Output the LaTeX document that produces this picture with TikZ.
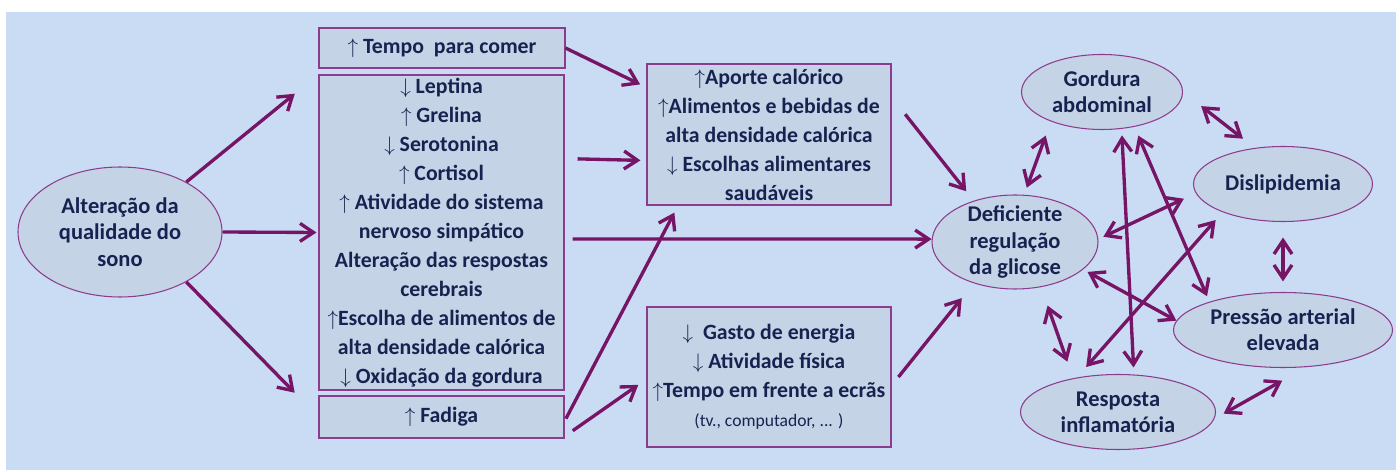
\documentclass[tikz,border=0pt]{standalone}
\usepackage{fontspec}
\setmainfont{Carlito}
\usepackage{tikz}
\usetikzlibrary{shapes,arrows.meta,positioning}

\definecolor{corfundo}{RGB}{202,220,244}
\definecolor{corcaixa}{RGB}{197,211,230}
\definecolor{corborda}{RGB}{140,60,140}
\definecolor{corseta}{RGB}{118,20,102}
\definecolor{cortexto}{RGB}{24,34,80}

\newcommand{\sobe}{$\uparrow$}
\newcommand{\desce}{$\downarrow$}

\begin{document}
\begin{tikzpicture}[
    font=\bfseries\fontsize{12.4}{16.5}\selectfont, text=cortexto,
    >={Straight Barb[length=2.7mm,width=3.6mm]},
    caixa/.style={draw=corborda, fill=corcaixa, line width=0.6pt, align=center, inner xsep=1pt, inner ysep=1pt},
    elipse/.style={ellipse, draw=corborda, fill=corcaixa, line width=0.6pt, align=center, inner sep=-10pt,
        font=\bfseries\fontsize{12.8}{15}\selectfont},
    seta/.style={draw=corseta, line width=1.9pt, ->},
    dupla/.style={draw=corseta, line width=1.9pt, <->}]

    % Fundo
    \useasboundingbox (0,0) rectangle (28,9.44);
    \fill [white] (0,0) rectangle (28,9.44);
    \fill [corfundo] (0.12,0.04) rectangle (27.92,9.2);

    % Causa
    \node [elipse, minimum width=4.08cm, minimum height=2.6cm] (sono) at (2.4,4.8) {Alteração da\\qualidade do\\sono};

    % Mecanismos
    \node [caixa, minimum width=4.92cm, minimum height=0.8cm] (tempo) at (8.84,8.48) {\sobe\ Tempo\ \ para comer};
    \node [caixa, minimum width=4.9cm, minimum height=6.3cm] (sinais) at (8.83,4.79)
        {\desce\ Leptina\\ \sobe\ Grelina\\ \desce\ Serotonina\\ \sobe\ Cortisol\\
         \sobe\ Atividade do sistema\\ nervoso simpático\\ Alteração das respostas\\ cerebrais\\
         \sobe Escolha de alimentos de\\ alta densidade calórica\\ \desce\ Oxidação da gordura};
    \node [caixa, minimum width=4.9cm, minimum height=0.84cm] (fadiga) at (8.83,1.1) {\sobe\ Fadiga};

    % Consequencias
    \node [caixa, minimum width=4.88cm, minimum height=2.82cm] (aporte) at (15.38,6.75)
        {\sobe Aporte calórico\\ \sobe Alimentos e bebidas de\\ alta densidade calórica\\
         \desce\ Escolhas alimentares\\ saudáveis};
    \node [caixa, minimum width=4.88cm, minimum height=2.8cm] (gasto) at (15.38,1.9)
        {\desce\ \ Gasto de energia\\ \desce\ Atividade física\\ \sobe Tempo em frente a ecrãs\\
         {\mdseries\fontsize{10}{12}\selectfont (tv., computador, ... )}};

    % Sindrome metabolica
    \node [elipse, minimum width=3.32cm, minimum height=1.88cm] (deficiente) at (20.3,4.6) {Deficiente\\regulação\\da glicose};
    \node [elipse, minimum width=3.22cm, minimum height=1.5cm] (gordura) at (22.04,7.6) {Gordura\\abdominal};
    \node [elipse, minimum width=3.58cm, minimum height=1.5cm] (dislipidemia) at (25.66,5.76) {Dislipidemia};
    \node [elipse, minimum width=4.38cm, minimum height=1.5cm] (pressao) at (25.66,2.84) {Pressão arterial\\elevada};
    \node [elipse, minimum width=3.9cm, minimum height=1.5cm] (resposta) at (22.36,1.2) {Resposta\\inflamatória};

    % Setas
    \draw [seta, shorten >=6.1mm] (sono.37) -- (sinais.north west);
    \draw [seta, shorten >=0.4mm] (sono.east) -- (sinais.west);
    \draw [seta, shorten >=6.8mm] (sono.-37) -- (fadiga.west);
    \draw [seta, shorten >=1.4mm] (tempo.east) -- (aporte.159);
    \draw [seta, shorten <=2.6mm, shorten >=1.2mm] (sinais.31) -- (aporte.192);
    \draw [seta, shorten <=1.6mm] (sinais.-3) -- (deficiente.178);
    \draw [seta, shorten <=0.6mm, shorten >=1.6mm] (fadiga.-2) -- (aporte.-142);
    \draw [seta, shorten <=2mm, shorten >=2mm] (fadiga.-9) -- (gasto.181);
    \draw [seta, shorten <=4.4mm, shorten >=2.4mm] (aporte.17) -- (deficiente.135);
    \draw [seta, shorten <=2.2mm, shorten >=3.8mm] (gasto.-4) -- (deficiente.225);

    % Setas duplas
    \draw [dupla, shorten <=1.5mm, shorten >=3mm] (deficiente.79) -- (gordura.210);
    \draw [dupla, shorten <=4.6mm, shorten >=3mm] (gordura.east) -- (dislipidemia.128);
    \draw [dupla, shorten <=1.1mm, shorten >=2.6mm] (deficiente.2) -- (dislipidemia.186);
    \draw [dupla, shorten <=1mm] (deficiente.-22) -- (pressao.175);
    \draw [dupla, shorten <=3.9mm, shorten >=3.5mm] (deficiente.-60) -- (resposta.143);
    \draw [dupla, shorten <=3.1mm, shorten >=2.1mm] (dislipidemia.south) -- (pressao.north);
    \draw [dupla, shorten <=5.5mm, shorten >=2.1mm] (pressao.-58) -- (resposta.-4);
    \draw [dupla, shorten <=1.3mm, shorten >=1.4mm] (gordura.-62) -- (resposta.67);
    \draw [dupla, shorten <=1.9mm, shorten >=1.2mm] (gordura.-47) -- (pressao.159);
    \draw [dupla, shorten <=2.8mm, shorten >=2.1mm] (resposta.140) -- (dislipidemia.205);
\end{tikzpicture}
\end{document}
